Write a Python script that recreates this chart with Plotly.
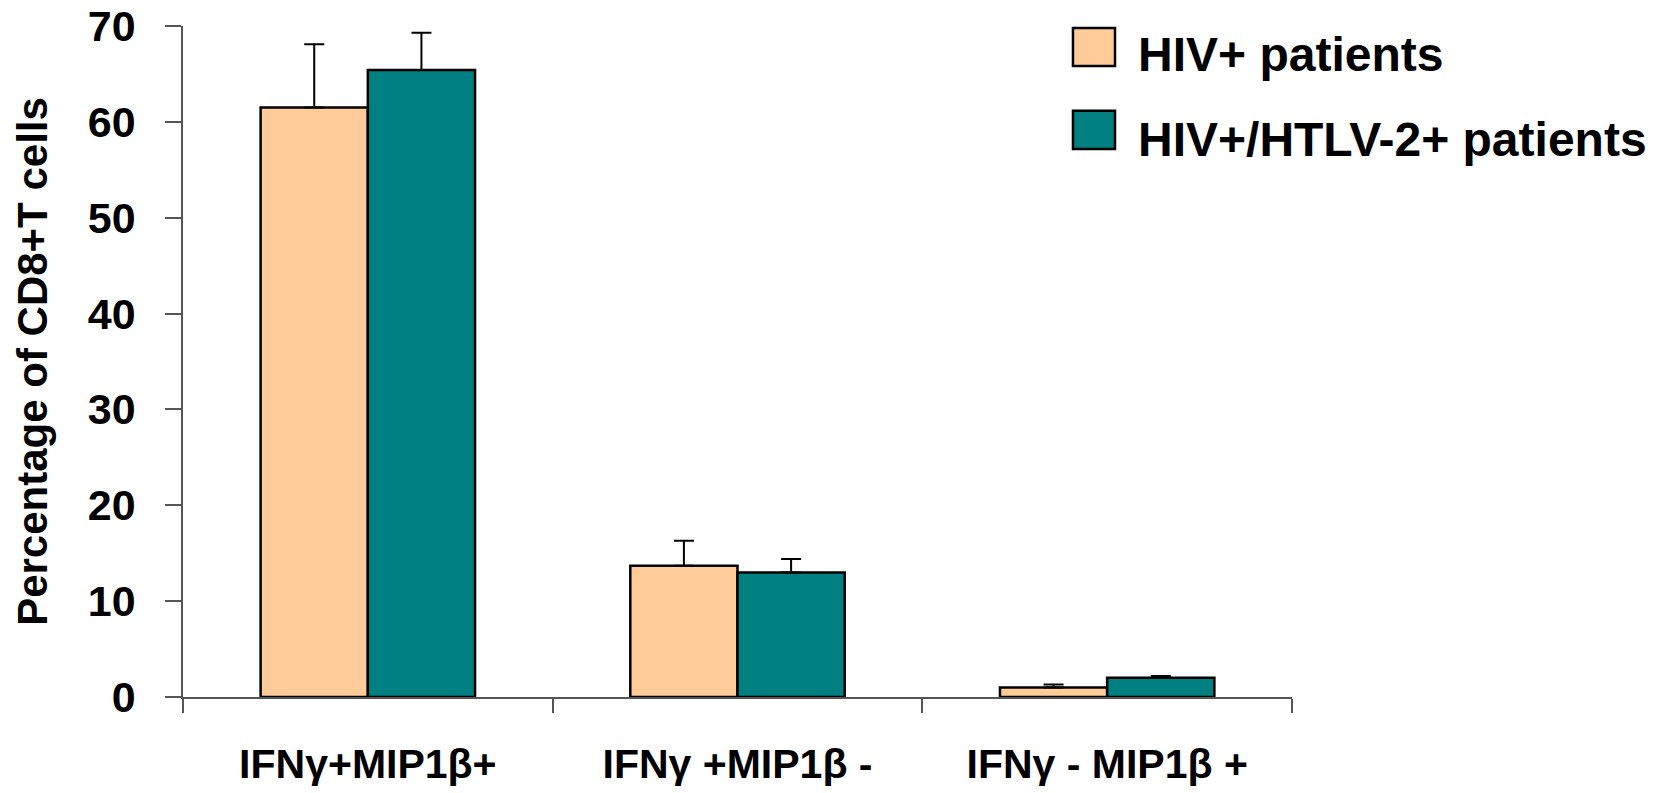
import plotly.graph_objects as go

categories = ["IFNγ+MIP1β+", "IFNγ +MIP1β -", "IFNγ - MIP1β +"]
series_names = ["HIV+ patients", "HIV+/HTLV-2+ patients"]
hiv_values = [61.5, 13.7, 1.0]
hiv_errors = [6.6, 2.6, 0.3]
coinf_values = [65.4, 13.0, 2.0]
coinf_errors = [3.9, 1.4, 0.2]
colors = ["#FFCC99", "#008080"]
y_ticks = [0, 10, 20, 30, 40, 50, 60, 70]

FONT = "Arial, 'Liberation Sans', sans-serif"

fig = go.Figure()
for name, vals, errs, col in [
    (series_names[0], hiv_values, hiv_errors, colors[0]),
    (series_names[1], coinf_values, coinf_errors, colors[1]),
]:
    fig.add_trace(go.Bar(
        x=categories, y=vals, name=name,
        marker=dict(color=col, line=dict(color="black", width=2.5)),
        error_y=dict(type="data", symmetric=False, array=errs,
                     arrayminus=[0] * len(errs),
                     color="black", thickness=2, width=10),
        showlegend=False,
    ))

# legend drawn manually (large swatches)
leg_rows = [(0.997, 0.9404, 0.9580), (0.8738, 0.8167, 0.8310)]
for (y1, y0, yt), name, col in zip(leg_rows, series_names, colors):
    fig.add_shape(type="rect", xref="paper", yref="paper",
                  x0=0.8025, x1=0.8404, y0=y0, y1=y1,
                  fillcolor=col, line=dict(color="black", width=2.5))
    fig.add_annotation(xref="paper", yref="paper", x=0.8590, y=yt,
                       xanchor="left", yanchor="middle", showarrow=False,
                       text="<b>%s</b>" % name,
                       font=dict(family=FONT, size=48, color="black"))

fig.update_layout(
    width=1658, height=793,
    margin=dict(l=183, r=366, t=26, b=96, autoexpand=False),
    plot_bgcolor="white", paper_bgcolor="white",
    barmode="group", bargap=0.42, bargroupgap=0,
    font=dict(family=FONT, color="black"),
)
fig.update_xaxes(
    type="category", showline=True, linecolor="#555", linewidth=1.5,
    ticks="outside", tickson="boundaries", ticklen=14, tickcolor="#555",
    tickwidth=1.5, showgrid=False, zeroline=False, automargin=False,
    tickfont=dict(family=FONT, size=41, color="black", weight="bold"),
    ticklabelstandoff=30,
)
fig.update_yaxes(
    range=[0, 70], tickvals=y_ticks, showline=True, linecolor="#555",
    linewidth=1.5, ticks="outside", ticklen=16, tickcolor="#555", tickwidth=1.5,
    showgrid=False, zeroline=False, automargin=False,
    tickfont=dict(family=FONT, size=43, color="black", weight="bold"),
    ticklabelstandoff=21,
    title=dict(text="<b>Percentage of CD8+T cells</b>",
               font=dict(family=FONT, size=42, color="black"), standoff=27),
)

fig.write_html("out.html")
